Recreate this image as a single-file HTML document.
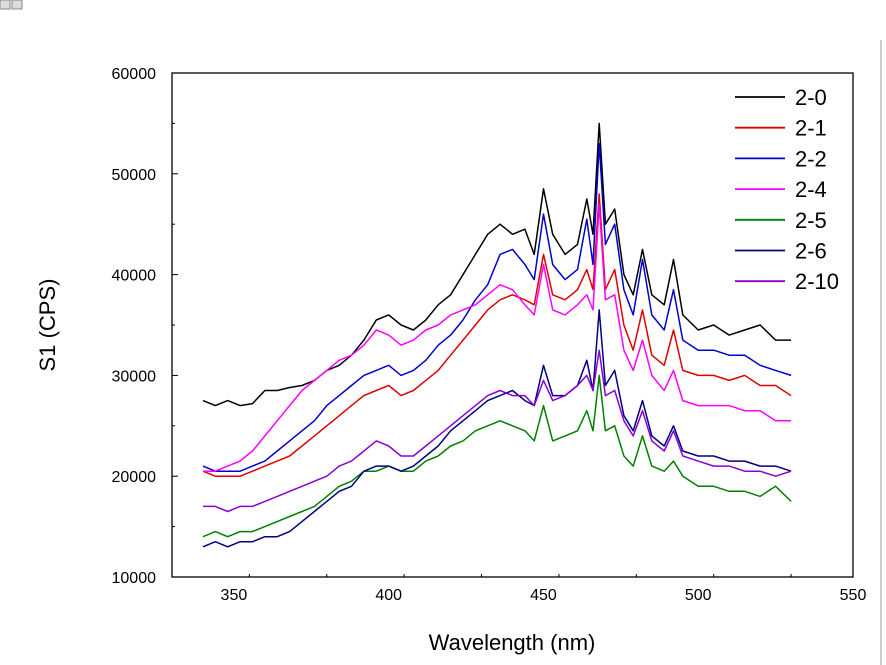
<!DOCTYPE html>
<html><head><meta charset="utf-8"><style>
body{margin:0;background:#fff;}
svg{display:block;font-family:"Liberation Sans",Arial,sans-serif;}
</style></head><body>
<svg id="chart" width="886" height="665" viewBox="0 0 886 665">
<rect x="0" y="0" width="10" height="9" fill="#ddd" stroke="#888"/>
<rect x="12" y="0" width="10" height="9" fill="#ddd" stroke="#888"/>
<line x1="881" y1="40" x2="881" y2="665" stroke="#999"/>
<g id="plot"></g>
</svg>
<script>
const wavelengths=[340,344,348,352,356,360,364,368,372,376,380,384,388,392,396,400,404,408,412,416,420,424,428,432,436,440,444,447,450,453,457,461,464,466,468,470,473,476,479,482,485,489,492,495,500,505,510,515,520,525,530];
const s20=[27500,27000,27500,27000,27200,28500,28500,28800,29000,29500,30500,31000,32000,33500,35500,36000,35000,34500,35500,37000,38000,40000,42000,44000,45000,44000,44500,42000,48500,44000,42000,43000,47500,44000,55000,45000,46500,40000,38000,42500,38000,37000,41500,36000,34500,35000,34000,34500,35000,33500,33500];
const s21=[20500,20000,20000,20000,20500,21000,21500,22000,23000,24000,25000,26000,27000,28000,28500,29000,28000,28500,29500,30500,32000,33500,35000,36500,37500,38000,37500,37000,42000,38000,37500,38500,40500,38500,48000,38500,40500,35000,32500,36500,32000,31000,34500,30500,30000,30000,29500,30000,29000,29000,28000];
const s22=[21000,20500,20500,20500,21000,21500,22500,23500,24500,25500,27000,28000,29000,30000,30500,31000,30000,30500,31500,33000,34000,35500,37500,39000,42000,42500,41000,39500,46000,41000,39500,40500,45500,41000,53000,43000,45000,38500,36000,41500,36000,34500,38500,33500,32500,32500,32000,32000,31000,30500,30000];
const s24=[20500,20500,21000,21500,22500,24000,25500,27000,28500,29500,30500,31500,32000,33000,34500,34000,33000,33500,34500,35000,36000,36500,37000,38000,39000,38500,37000,36000,41000,36500,36000,37000,38000,36500,47000,37500,38000,32500,30500,33500,30000,28500,30500,27500,27000,27000,27000,26500,26500,25500,25500];
const s25=[14000,14500,14000,14500,14500,15000,15500,16000,16500,17000,18000,19000,19500,20500,20500,21000,20500,20500,21500,22000,23000,23500,24500,25000,25500,25000,24500,23500,27000,23500,24000,24500,26500,24500,30000,24500,25000,22000,21000,24000,21000,20500,21500,20000,19000,19000,18500,18500,18000,19000,17500];
const s26=[13000,13500,13000,13500,13500,14000,14000,14500,15500,16500,17500,18500,19000,20500,21000,21000,20500,21000,22000,23000,24500,25500,26500,27500,28000,28500,27500,27000,31000,28000,28000,29000,31500,28500,36500,29000,30500,26000,24500,27500,24000,23000,25000,22500,22000,22000,21500,21500,21000,21000,20500];
const s210=[17000,17000,16500,17000,17000,17500,18000,18500,19000,19500,20000,21000,21500,22500,23500,23000,22000,22000,23000,24000,25000,26000,27000,28000,28500,28000,28000,27000,29500,27500,28000,29000,30000,28500,32500,28000,28500,25500,24000,26500,23500,22500,24500,22000,21500,21000,21000,20500,20500,20000,20500];
const seriesNames=["2-0","2-1","2-2","2-4","2-5","2-6","2-10"];
const seriesValues=[s20,s21,s22,s24,s25,s26,s210];
const xTicks=[350,400,450,500,550];
const yTicks=[10000,20000,30000,40000,50000,60000];

const colors=["#000000","#e00000","#0000d0","#ff00ff","#008000","#000080","#8a00d4"];
const L=172,R=853,T=73,B=577;
const xMin=330,xMax=550,yMin=10000,yMax=60000;
const X=v=>L+(v-xMin)/(xMax-xMin)*(R-L);
const Y=v=>B-(v-yMin)/(yMax-yMin)*(B-T);
const NS="http://www.w3.org/2000/svg";
const g=document.getElementById('plot');
function mk(tag,attrs,parent){const e=document.createElementNS(NS,tag);for(const k in attrs)e.setAttribute(k,attrs[k]);(parent||g).appendChild(e);return e;}

const frame=mk('rect',{x:L,y:T,width:R-L,height:B-T,fill:'none',stroke:'#000','stroke-width':1.3});



for(let v=xMin;v<=xMax;v+=25){
  const major=xTicks.includes(v);
  const t=mk('line',{x1:X(v),x2:X(v),y1:B,y2:B-(major?6:3),stroke:'#000'});
  
  
}
xTicks.forEach(v=>{
  const t=mk('text',{x:X(v),y:B+23,'text-anchor':'middle','font-size':16});
  t.textContent=v;
  
  
});
for(let v=yMin;v<=yMax;v+=5000){
  const major=yTicks.includes(v);
  const t=mk('line',{x1:L,x2:L+(major?6:3),y1:Y(v),y2:Y(v),stroke:'#000'});
  
  
}
yTicks.forEach(v=>{
  const t=mk('text',{x:L-16,y:Y(v)+6,'text-anchor':'end','font-size':16});
  t.textContent=v;
  
  
});
const xt=mk('text',{x:512,y:650,'text-anchor':'middle','font-size':22});
xt.textContent='Wavelength (nm)';


const yt=mk('text',{x:0,y:0,'text-anchor':'middle','font-size':22,transform:'translate(55,325) rotate(-90)'});
yt.textContent='S1 (CPS)';



seriesValues.forEach((vals,i)=>{
  const d=vals.map((v,j)=>(j?'L':'M')+X(wavelengths[j]).toFixed(1)+' '+Y(v).toFixed(1)).join(' ');
  const p=mk('path',{d:d,fill:'none',stroke:colors[i],'stroke-width':1.5,'stroke-linejoin':'round'});
  
  
});

seriesNames.forEach((n,i)=>{
  const y=97+i*30.7;
  const ln=mk('line',{x1:735,x2:785,y1:y,y2:y,stroke:colors[i],'stroke-width':1.8});
  
  
  const t=mk('text',{x:795,y:y+8,'font-size':22});
  t.textContent=n;
  
  
});
</script>
</body></html>
